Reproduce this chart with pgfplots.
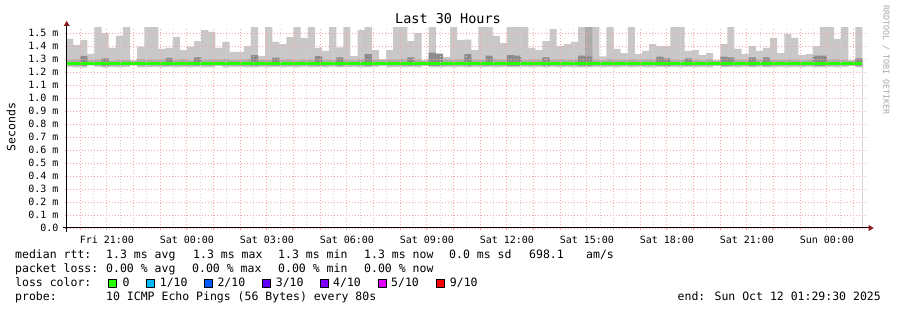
\documentclass[border=0pt]{standalone}
\usepackage{fontspec}
\setmainfont{DejaVu Sans Mono}
\setmonofont{DejaVu Sans Mono}
\usepackage{pgfplots}
\usepackage{pgfplotstable}
\pgfplotsset{compat=1.18}
\definecolor{smokeL}{HTML}{C8C8C8}
\definecolor{smokeM}{HTML}{ACACAC}
\definecolor{smokeD}{HTML}{8C8C8C}
\definecolor{lossok}{HTML}{26FF00}
\definecolor{mgrid}{HTML}{F4A8A8}
\definecolor{mingrid}{HTML}{D4D4D4}
\definecolor{arrowc}{HTML}{8B1A1A}
\definecolor{loss1}{HTML}{00B8FF}
\definecolor{loss2}{HTML}{0059FF}
\definecolor{loss3}{HTML}{5E00FF}
\definecolor{loss4}{HTML}{7E00FF}
\definecolor{loss5}{HTML}{DD00FF}
\definecolor{loss9}{HTML}{FF0000}

% x = start of 16-minute column, hours relative to Sat 00:00; values in ms
\pgfplotstableread{
x mn lo hi dk mx md
-4.5333 1.240 1.250 1.295 1.24 1.454 1.268
-4.2667 1.236 1.248 1.300 1.24 1.408 1.266
-4.0000 1.234 1.247 1.310 1.325 1.446 1.267
-3.7333 1.250 1.252 1.290 1.24 1.338 1.268
-3.4667 1.240 1.250 1.298 1.24 1.60 1.267
-3.2000 1.233 1.246 1.295 1.305 1.500 1.266
-2.9333 1.238 1.249 1.288 1.24 1.385 1.268
-2.6667 1.236 1.248 1.295 1.24 1.477 1.267
-2.4000 1.238 1.250 1.292 1.24 1.60 1.267
-2.1333 1.250 1.252 1.286 1.24 1.290 1.268
-1.8667 1.236 1.248 1.300 1.24 1.395 1.267
-1.6000 1.237 1.249 1.296 1.24 1.60 1.266
-1.3333 1.240 1.250 1.293 1.24 1.60 1.267
-1.0667 1.235 1.247 1.298 1.24 1.377 1.268
-0.8000 1.240 1.250 1.300 1.308 1.385 1.267
-0.5333 1.236 1.248 1.295 1.24 1.469 1.266
-0.2667 1.238 1.250 1.300 1.24 1.369 1.267
0.0000 1.236 1.248 1.290 1.24 1.395 1.268
0.2667 1.240 1.249 1.300 1.313 1.438 1.267
0.5333 1.236 1.248 1.296 1.24 1.523 1.266
0.8000 1.236 1.248 1.300 1.24 1.508 1.267
1.0667 1.245 1.251 1.295 1.24 1.385 1.268
1.3333 1.236 1.248 1.300 1.24 1.431 1.267
1.6000 1.240 1.250 1.293 1.24 1.354 1.267
1.8667 1.237 1.249 1.295 1.24 1.354 1.266
2.1333 1.236 1.248 1.300 1.24 1.400 1.267
2.4000 1.236 1.248 1.310 1.330 1.60 1.268
2.6667 1.238 1.250 1.296 1.24 1.323 1.267
2.9333 1.236 1.248 1.293 1.24 1.60 1.267
3.2000 1.240 1.249 1.300 1.310 1.431 1.266
3.4667 1.236 1.248 1.295 1.24 1.415 1.267
3.7333 1.237 1.250 1.300 1.24 1.469 1.268
4.0000 1.236 1.248 1.292 1.24 1.60 1.267
4.2667 1.240 1.250 1.298 1.24 1.462 1.267
4.5333 1.236 1.248 1.295 1.24 1.60 1.266
4.8000 1.238 1.249 1.305 1.323 1.385 1.267
5.0667 1.236 1.248 1.296 1.24 1.362 1.268
5.3333 1.240 1.250 1.293 1.24 1.60 1.267
5.6000 1.236 1.248 1.300 1.313 1.390 1.267
5.8667 1.237 1.249 1.295 1.24 1.60 1.266
6.1333 1.240 1.250 1.290 1.24 1.323 1.267
6.4000 1.236 1.248 1.300 1.24 1.523 1.268
6.6667 1.236 1.248 1.310 1.338 1.60 1.267
6.9333 1.238 1.249 1.296 1.24 1.369 1.267
7.2000 1.245 1.251 1.290 1.24 1.300 1.266
7.4667 1.236 1.248 1.298 1.24 1.369 1.267
7.7333 1.237 1.249 1.295 1.24 1.60 1.268
8.0000 1.236 1.248 1.300 1.24 1.60 1.267
8.2667 1.240 1.250 1.300 1.313 1.438 1.267
8.5333 1.236 1.248 1.295 1.24 1.500 1.266
8.8000 1.245 1.251 1.288 1.24 1.290 1.267
9.0667 1.236 1.248 1.315 1.350 1.60 1.268
9.3333 1.236 1.248 1.310 1.340 1.344 1.267
9.6000 1.238 1.249 1.298 1.24 1.317 1.267
9.8667 1.236 1.248 1.295 1.24 1.60 1.266
10.1333 1.240 1.250 1.300 1.24 1.446 1.267
10.4000 1.236 1.248 1.310 1.338 1.450 1.268
10.6667 1.237 1.249 1.296 1.24 1.369 1.267
10.9333 1.236 1.248 1.293 1.24 1.60 1.267
11.2000 1.240 1.250 1.305 1.326 1.60 1.266
11.4667 1.236 1.248 1.298 1.24 1.477 1.267
11.7333 1.238 1.249 1.295 1.24 1.423 1.268
12.0000 1.236 1.248 1.305 1.330 1.60 1.267
12.2667 1.236 1.248 1.305 1.326 1.60 1.267
12.5333 1.240 1.250 1.293 1.24 1.60 1.266
12.8000 1.236 1.248 1.300 1.24 1.385 1.267
13.0667 1.237 1.249 1.296 1.24 1.369 1.268
13.3333 1.236 1.248 1.300 1.313 1.438 1.267
13.6000 1.240 1.250 1.295 1.24 1.530 1.267
13.8667 1.236 1.248 1.300 1.24 1.400 1.266
14.1333 1.238 1.249 1.293 1.24 1.415 1.267
14.4000 1.236 1.248 1.298 1.24 1.431 1.268
14.6667 1.236 1.248 1.305 1.326 1.60 1.267
14.9333 1.236 1.248 1.60 1.320 1.60 1.267
15.2000 1.240 1.250 1.295 1.24 1.60 1.266
15.4667 1.236 1.248 1.290 1.24 1.320 1.267
15.7333 1.237 1.249 1.300 1.24 1.60 1.268
16.0000 1.236 1.248 1.296 1.24 1.377 1.267
16.2667 1.240 1.250 1.293 1.24 1.346 1.267
16.5333 1.236 1.248 1.300 1.24 1.60 1.266
16.8000 1.238 1.249 1.295 1.24 1.338 1.267
17.0667 1.236 1.248 1.298 1.24 1.362 1.268
17.3333 1.236 1.248 1.300 1.24 1.415 1.267
17.6000 1.240 1.250 1.305 1.318 1.400 1.267
17.8667 1.236 1.248 1.300 1.305 1.400 1.266
18.1333 1.237 1.249 1.295 1.24 1.60 1.267
18.4000 1.236 1.248 1.293 1.24 1.60 1.268
18.6667 1.240 1.250 1.300 1.305 1.362 1.267
18.9333 1.236 1.248 1.296 1.24 1.369 1.267
19.2000 1.238 1.249 1.290 1.24 1.330 1.266
19.4667 1.236 1.248 1.298 1.24 1.346 1.267
19.7333 1.245 1.251 1.288 1.24 1.290 1.268
20.0000 1.236 1.248 1.305 1.318 1.415 1.267
20.2667 1.237 1.249 1.300 1.313 1.60 1.267
20.5333 1.236 1.248 1.295 1.24 1.377 1.266
20.8000 1.240 1.250 1.293 1.24 1.338 1.267
21.0667 1.236 1.248 1.300 1.313 1.400 1.268
21.3333 1.238 1.249 1.296 1.24 1.362 1.267
21.6000 1.236 1.248 1.300 1.313 1.385 1.267
21.8667 1.236 1.248 1.295 1.24 1.462 1.266
22.1333 1.240 1.250 1.293 1.24 1.346 1.267
22.4000 1.236 1.248 1.298 1.24 1.492 1.268
22.6667 1.237 1.249 1.295 1.24 1.462 1.267
22.9333 1.236 1.248 1.290 1.24 1.330 1.267
23.2000 1.240 1.250 1.296 1.24 1.338 1.266
23.4667 1.236 1.248 1.305 1.326 1.400 1.267
23.7333 1.236 1.248 1.305 1.326 1.60 1.268
24.0000 1.238 1.249 1.295 1.24 1.60 1.267
24.2667 1.236 1.248 1.300 1.24 1.454 1.267
24.5333 1.240 1.250 1.293 1.24 1.60 1.266
24.8000 1.245 1.251 1.288 1.24 1.290 1.267
25.0667 1.236 1.248 1.300 1.305 1.60 1.268
25.3333 1.236 1.248 1.300 1.305 1.60 1.268
}\smoke

\begin{document}
\begin{tikzpicture}
\useasboundingbox (0,0) rectangle (897bp,310bp);
\begin{axis}[
  at={(66.7bp,82bp)}, anchor=south west,
  scale only axis, width=800bp, height=200bp,
  xmin=-4.5083, xmax=25.4917, ymin=0, ymax=1.5385,
  axis on top, axis line style={draw=none},
  xtick={-4,-3,...,25},
  xticklabels={,Fri 21:00,,,Sat 00:00,,,Sat 03:00,,,Sat 06:00,,,Sat 09:00,,,Sat 12:00,,,Sat 15:00,,,Sat 18:00,,,Sat 21:00,,,Sun 00:00,},
  minor x tick num=1,
  ytick={0,0.1,0.2,0.3,0.4,0.5,0.6,0.7,0.8,0.9,1.0,1.1,1.2,1.3,1.4,1.5},
  yticklabels={0.0,0.1 m,0.2 m,0.3 m,0.4 m,0.5 m,0.6 m,0.7 m,0.8 m,0.9 m,1.0 m,1.1 m,1.2 m,1.3 m,1.4 m,1.5 m},
  xtick pos=bottom, ytick pos=left,
  tick align=outside, major tick length=2bp, minor tick length=0pt,
  tick style={color=mgrid, line width=1bp},
  grid=both,
  major grid style={color=mgrid, line width=0.9bp, dash pattern=on 1bp off 2bp},
  minor grid style={color=mingrid, line width=0.9bp, dash pattern=on 1bp off 2bp},
  xticklabel style={font=\fontsize{10bp}{12bp}\selectfont, anchor=base, inner sep=0pt, yshift=-13bp},
  yticklabel style={font=\fontsize{10bp}{12bp}\selectfont, anchor=east, inner sep=0pt, xshift=-6bp},
]
\addplot[const plot, draw=none, fill=smokeL] table[x=x,y=mx]{\smoke} \closedcycle;
\addplot[const plot, draw=none, fill=smokeM] table[x=x,y=hi]{\smoke} \closedcycle;
\addplot[const plot, draw=none, fill=smokeD] table[x=x,y=dk]{\smoke} \closedcycle;
\addplot[const plot, draw=none, fill=smokeL] table[x=x,y=lo]{\smoke} \closedcycle;
\addplot[const plot, draw=none, fill=white] table[x=x,y=mn]{\smoke} \closedcycle;
\addplot[const plot, no marks, color=lossok, line width=3.3bp] table[x=x,y=md]{\smoke};
\end{axis}
% axes with arrows
\draw[line width=1bp, black] (62.7bp,82bp) -- (870.7bp,82bp);
\fill[arrowc] (868.7bp,85bp) -- (868.7bp,79bp) -- (873.7bp,82bp) -- cycle;
\draw[line width=1bp, black] (66.7bp,78bp) -- (66.7bp,286bp);
\fill[arrowc] (63.7bp,284bp) -- (69.7bp,284bp) -- (66.7bp,289bp) -- cycle;
% titles
\node[anchor=base, inner sep=0pt, font=\fontsize{13.5bp}{15bp}\selectfont] at (448bp,286bp) {Last 30 Hours};
\node[rotate=90, inner sep=0pt, font=\fontsize{11.5bp}{13bp}\selectfont] at (11bp,183bp) {Seconds};
\node[rotate=-90, inner sep=0pt, text=black!35, font=\fontsize{8.3bp}{10bp}\selectfont] at (886bp,250bp) {RRDTOOL / TOBI OETIKER};
% legend
\begin{scope}[every node/.style={anchor=base west, inner sep=0pt, font=\fontsize{11.5bp}{14bp}\selectfont}]
\node at (15bp,51.7bp) {median rtt:};
\node at (106bp,51.7bp) {1.3 ms avg};
\node at (193bp,51.7bp) {1.3 ms max};
\node at (278bp,51.7bp) {1.3 ms min};
\node at (364bp,51.7bp) {1.3 ms now};
\node at (449bp,51.7bp) {0.0 ms sd};
\node at (529bp,51.7bp) {698.1};
\node at (586bp,51.7bp) {am/s};
\node at (15bp,37.7bp) {packet loss:};
\node at (106bp,37.7bp) {0.00 \% avg};
\node at (192bp,37.7bp) {0.00 \% max};
\node at (278bp,37.7bp) {0.00 \% min};
\node at (364bp,37.7bp) {0.00 \% now};
\node at (15bp,23.7bp) {loss color:};
\node at (122.3bp,23.7bp) {0};
\node at (159.7bp,23.7bp) {1/10};
\node at (217.3bp,23.7bp) {2/10};
\node at (275.7bp,23.7bp) {3/10};
\node at (333bp,23.7bp) {4/10};
\node at (391bp,23.7bp) {5/10};
\node at (449.7bp,23.7bp) {9/10};
\node at (15bp,9.7bp) {probe:};
\node at (106bp,9.7bp) {10 ICMP Echo Pings (56 Bytes) every 80s};
\node[anchor=base east] at (881bp,9.7bp) {end: Sun Oct 12 01:29:30 2025};
\end{scope}
\begin{scope}[line width=0.8bp, draw=black]
\filldraw[fill=lossok] (108.7bp,23bp) rectangle (116.7bp,31bp);
\filldraw[fill=loss1] (146bp,23bp) rectangle (154bp,31bp);
\filldraw[fill=loss2] (204bp,23bp) rectangle (212bp,31bp);
\filldraw[fill=loss3] (262bp,23bp) rectangle (270bp,31bp);
\filldraw[fill=loss4] (320bp,23bp) rectangle (328bp,31bp);
\filldraw[fill=loss5] (378bp,23bp) rectangle (386bp,31bp);
\filldraw[fill=loss9] (436bp,23bp) rectangle (444bp,31bp);
\end{scope}
\end{tikzpicture}
\end{document}
